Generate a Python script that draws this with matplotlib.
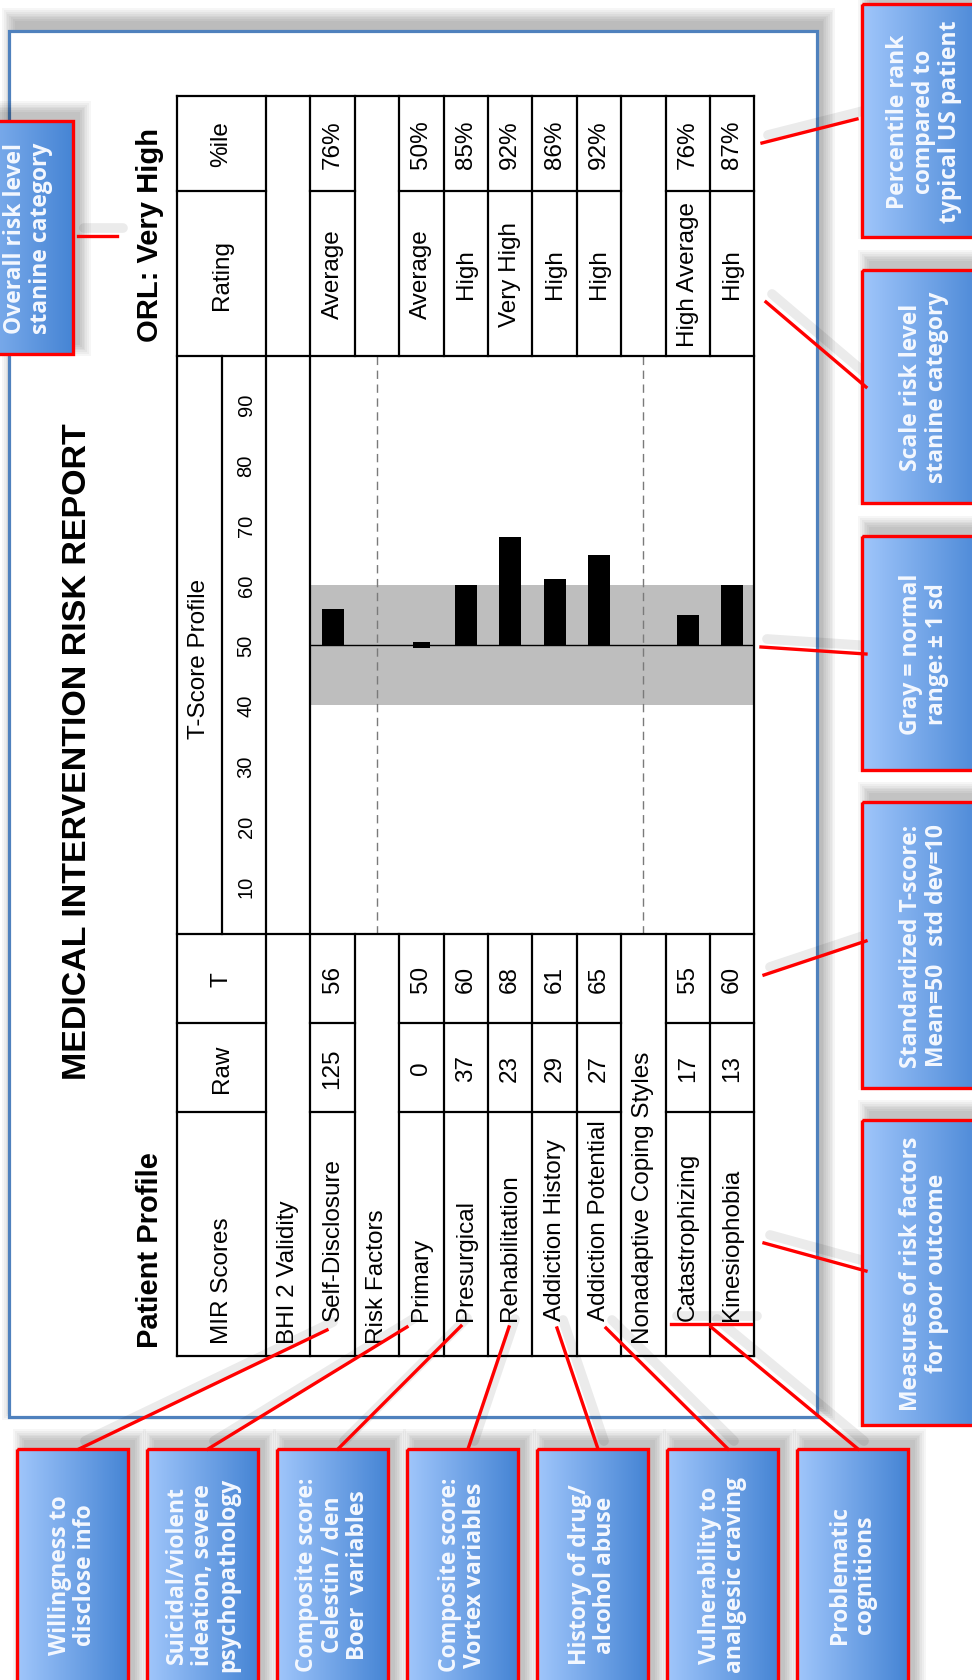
import numpy as np
import matplotlib.pyplot as plt
from matplotlib.patches import Rectangle
from matplotlib.colors import LinearSegmentedColormap

# report content (the report is printed rotated a quarter turn)
row_labels = ['BHI 2 Validity', 'Self-Disclosure', 'Risk Factors', 'Primary',
              'Presurgical', 'Rehabilitation', 'Addiction History',
              'Addiction Potential', 'Nonadaptive Coping Styles',
              'Catastrophizing', 'Kinesiophobia']
section_rows = [0, 2, 8]
raw_scores = ['', '125', '', '0', '37', '23', '29', '27', '', '17', '13']
t_scores = [None, 56, None, 50, 60, 68, 61, 65, None, 55, 60]
ratings = ['', 'Average', '', 'Average', 'High', 'Very High', 'High', 'High',
           '', 'High Average', 'High']
percentiles = ['', '76%', '', '50%', '85%', '92%', '86%', '92%', '', '76%', '87%']
t_ticks = [10, 20, 30, 40, 50, 60, 70, 80, 90]
t_mean = 50
normal_range = (40, 60)
orl = 'Very High'

bottom_notes = ['Willingness to\ndisclose info',
                'Suicidal/violent\nideation, severe\npsychopathology',
                'Composite score:\nCelestin / den\nBoer  variables',
                'Composite score:\nVortex variables',
                'History of drug/\nalcohol abuse',
                'Vulnerability to\nanalgesic craving',
                'Problematic\ncognitions']
side_notes = ['Percentile rank\ncompared to\ntypical US patient',
              'Scale risk level\nstanine category',
              'Gray = normal\nrange: \u00b1 1 sd',
              'Standardized T-score:\nMean=50   std dev=10',
              'Measures of risk factors\nfor poor outcome']
corner_note = 'Overall risk level\nstanine category'

W, H = 972, 1681
plt.rcParams['font.family'] = ['Liberation Sans', 'DejaVu Sans']
fig = plt.figure(figsize=(W / 100, H / 100), dpi=100)


def pix_axes(z):
    a = fig.add_axes([0, 0, 1, 1], zorder=z)
    a.set_xlim(0, W)
    a.set_ylim(H, 0)
    a.axis('off')
    a.patch.set_alpha(0)
    return a


bg = pix_axes(0)
ov = pix_axes(3)

# table geometry in pixels (x across rows, y along columns)
tab_l, hdr, row_w = 177, 266, 44.4
tab_r = hdr + len(row_labels) * row_w
y_top, y_pct, y_prof, y_t, y_raw, y_mir, y_bot = 97, 192, 357, 935, 1024, 1113, 1357


def shadow(ax, x0, y0, w, h, dx=7, dy=-9, n=7, a=0.035):
    for k in range(n):
        g = 1.8 * k
        ax.add_patch(Rectangle((x0 + dx - g, y0 + dy - g), w + 2 * g, h + 2 * g,
                               facecolor='black', edgecolor='none', alpha=a, zorder=1))


# page frame
shadow(bg, 8.6, 32, 808, 1386, dx=6, dy=-10, n=8, a=0.035)
bg.add_patch(Rectangle((8.6, 32), 808, 1386, facecolor='white', edgecolor='#4f81bd',
                       lw=2.3, zorder=2))

# T-score profile
cx0 = hdr + row_w
cax = fig.add_axes([cx0 / W, 1 - y_t / H, (tab_r - cx0) / W, (y_t - y_prof) / H], zorder=1)
cax.set_xlim(0.5, 10.5)
cax.set_ylim(2, 98)
cax.axis('off')
cax.axhspan(*normal_range, color='#bebebe', lw=0)
for r in section_rows[1:]:
    cax.axvline(r, color='#7a7a7a', lw=1, ls=(0, (6, 4)))
cax.axhline(t_mean, color='black', lw=1)
for i, t in enumerate(t_scores):
    if t is None:
        continue
    if t == t_mean:
        cax.bar(i, 1, bottom=t - 0.5, width=0.38, color='black')
    else:
        cax.bar(i, t - t_mean, bottom=t_mean, width=0.5, color='black')
for t in t_ticks:
    cax.text(-0.145, t, str(t), transform=cax.get_yaxis_transform(), rotation=90,
             ha='center', va='center', fontsize=14.5)

# table grid
lw = 1.6
def vl(x, y0, y1):
    ov.plot([x, x], [y0, y1], color='black', lw=lw, solid_capstyle='projecting')
def hl(y, x0, x1):
    ov.plot([x0, x1], [y, y], color='black', lw=lw, solid_capstyle='projecting')

for x in [tab_l, hdr, hdr + row_w, tab_r]:
    vl(x, y_top, y_bot)
vl((tab_l + hdr) / 2, y_prof, y_t)
for k in range(2, len(row_labels)):
    x = hdr + k * row_w
    vl(x, y_top, y_prof)
    vl(x, y_t, y_bot)
for y in [y_top, y_prof, y_t, y_bot]:
    hl(y, tab_l, tab_r)
for y in [y_pct, y_raw, y_mir]:
    hl(y, tab_l, hdr)
    for i in range(len(row_labels)):
        if i not in section_rows:
            hl(y, hdr + i * row_w, hdr + (i + 1) * row_w)

fs = 17.5
hx = (tab_l + hdr) / 2
ov.text(hx, 1344, 'MIR Scores', rotation=90, ha='center', va='bottom', fontsize=fs)
ov.text(hx, (y_raw + y_mir) / 2, 'Raw', rotation=90, ha='center', va='center', fontsize=fs)
ov.text(hx, (y_t + y_raw) / 2, 'T', rotation=90, ha='center', va='center', fontsize=fs)
ov.text(199, 659, 'T-Score Profile', rotation=90, ha='center', va='center', fontsize=fs)
ov.text(hx, (y_pct + y_prof) / 2, 'Rating', rotation=90, ha='center', va='center', fontsize=fs)
ov.text(hx, (y_top + y_pct) / 2, '%ile', rotation=90, ha='center', va='center', fontsize=fs)

for i, lab in enumerate(row_labels):
    x = hdr + (i + 0.5) * row_w
    ov.text(x, 1344 if i in section_rows else 1321, lab, rotation=90,
            ha='center', va='bottom', fontsize=fs)
    if i in section_rows:
        continue
    ov.text(x, (y_raw + y_mir) / 2, raw_scores[i], rotation=90, ha='center', va='center', fontsize=fs)
    ov.text(x, (y_t + y_raw) / 2, str(t_scores[i]), rotation=90, ha='center', va='center', fontsize=fs)
    ov.text(x, (y_pct + y_prof) / 2, ratings[i], rotation=90, ha='center', va='center', fontsize=fs)
    ov.text(x, (y_top + y_pct) / 2, percentiles[i], rotation=90, ha='center', va='center', fontsize=fs)

ov.text(78, 752, 'MEDICAL INTERVENTION RISK REPORT', rotation=90, ha='center', va='center',
        fontsize=24.5, weight='bold')
ov.text(150, 1348, 'Patient Profile', rotation=90, ha='center', va='bottom',
        fontsize=21, weight='bold')
ov.text(150, 342, 'ORL: ' + orl, rotation=90, ha='center', va='bottom',
        fontsize=21, weight='bold')

# callouts
grad = np.linspace(0, 1, 256).reshape(1, -1)
cmap = LinearSegmentedColormap.from_list('note', ['#a0c6fb', '#4584d4'])


def note(x0, x1, y0, y1, text, tx=None):
    shadow(ov, x0, y0, x1 - x0, y1 - y0)
    ov.imshow(grad, cmap=cmap, extent=(x0, x1, y1, y0), aspect='auto', zorder=2,
              interpolation='bilinear')
    ov.add_patch(Rectangle((x0, y0), x1 - x0, y1 - y0, fill=False, edgecolor='#ff0000',
                           lw=2.4, zorder=3))
    ov.text((x0 + x1) / 2 if tx is None else tx, (y0 + y1) / 2, text, rotation=90,
            ha='center', va='center', multialignment='center', color='#f4f8ff',
            fontsize=16.5, weight='bold', family=['Open Sans', 'DejaVu Sans'],
            linespacing=1.1, zorder=4)


for i, t in enumerate(bottom_notes):
    note(17 + 130 * i, 128 + 130 * i, 1450, 1700, t)
side_spans = [(5, 238), (271, 504), (537, 771), (803, 1089), (1121, 1426)]
for (y0, y1), t in zip(side_spans, side_notes):
    note(862, 990, y0, y1, t, tx=924)
note(-60, 73, 122, 355, corner_note, tx=28)

connectors = [((78, 237), (117, 237)),
              ((762, 144), (857, 120)),
              ((766, 303), (866, 388)),
              ((761, 648), (866, 655)),
              ((764, 976), (866, 942)),
              ((764, 1244), (866, 1272)),
              ((327, 1331), (79, 1450)),
              ((407, 1328), (208, 1450)),
              ((461, 1327), (338, 1450)),
              ((509, 1328), (468, 1450)),
              ((557, 1329), (598, 1450)),
              ((606, 1329), (728, 1450)),
              ((711, 1328), (858, 1450)),
              ((671, 1325), (751, 1325))]
for (xa, ya), (xb, yb) in connectors:
    ov.plot([xa + 6, xb + 6], [ya - 8, yb - 8], color='black', alpha=0.08, lw=7,
            solid_capstyle='round', zorder=1)
    ov.plot([xa, xb], [ya, yb], color='#ff0000', lw=2.4, zorder=5)

ov.set_xlim(0, W)
ov.set_ylim(H, 0)
fig.savefig('out.png', dpi=100, facecolor='white')
